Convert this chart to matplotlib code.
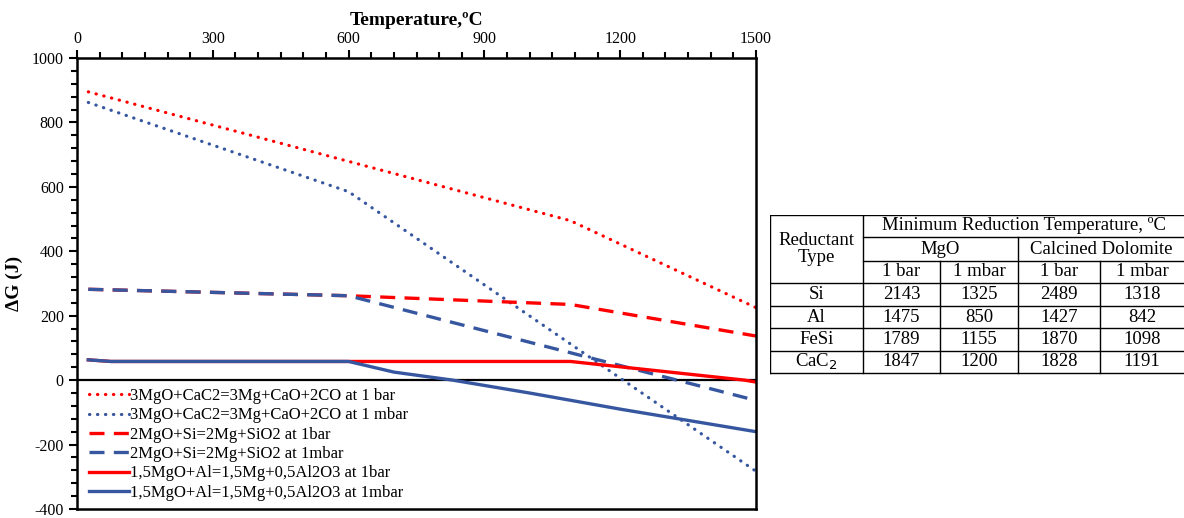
import matplotlib.pyplot as plt
from matplotlib.ticker import MultipleLocator

plt.rcParams['font.family'] = ['Liberation Serif', 'DejaVu Serif']
plt.rcParams['axes.unicode_minus'] = False

# temperature (C) / delta G (J)
t_cac2_1bar = [25, 1090, 1500]
g_cac2_1bar = [895, 495, 225]
t_cac2_1mbar = [25, 600, 1500]
g_cac2_1mbar = [862, 585, -283]
t_si_1bar = [25, 600, 1090, 1500]
g_si_1bar = [282, 262, 235, 137]
t_si_1mbar = [25, 600, 1500]
g_si_1mbar = [282, 262, -63]
t_al_1bar = [25, 75, 1090, 1475, 1500]
g_al_1bar = [63, 58, 58, 0, -6]
t_al_1mbar = [25, 75, 600, 700, 830, 1000, 1200, 1350, 1500]
g_al_1mbar = [63, 58, 58, 25, 0, -40, -90, -125, -160]

labels = [
    "3MgO+CaC2=3Mg+CaO+2CO at 1 bar",
    "3MgO+CaC2=3Mg+CaO+2CO at 1 mbar",
    "2MgO+Si=2Mg+SiO2 at 1bar",
    "2MgO+Si=2Mg+SiO2 at 1mbar",
    "1,5MgO+Al=1,5Mg+0,5Al2O3 at 1bar",
    "1,5MgO+Al=1,5Mg+0,5Al2O3 at 1mbar",
]

# table of minimum reduction temperatures
reductants = ["Si", "Al", "FeSi", "CaC$_2$"]
mgo_1bar = [2143, 1475, 1789, 1847]
mgo_1mbar = [1325, 850, 1155, 1200]
dol_1bar = [2489, 1427, 1870, 1828]
dol_1mbar = [1318, 842, 1098, 1191]

red = "#ff0000"
blue = "#3657a0"

fig = plt.figure(figsize=(11.84, 5.18), dpi=100)
ax = fig.add_axes([77 / 1184, 1 - 509 / 518, 679 / 1184, 451 / 518])

dot = (0, (0.1, 2.4))
dash = (0, (4.5, 2.8))
ax.plot(t_cac2_1bar, g_cac2_1bar, color=red, lw=2.3, linestyle=dot, dash_capstyle="round", label=labels[0])
ax.plot(t_cac2_1mbar, g_cac2_1mbar, color=blue, lw=2.3, linestyle=dot, dash_capstyle="round", label=labels[1])
ax.plot(t_si_1bar, g_si_1bar, color=red, lw=2.4, linestyle=dash, label=labels[2])
ax.plot(t_si_1mbar, g_si_1mbar, color=blue, lw=2.4, linestyle=dash, label=labels[3])
ax.plot(t_al_1bar, g_al_1bar, color=red, lw=2.4, label=labels[4])
ax.plot(t_al_1mbar, g_al_1mbar, color=blue, lw=2.4, label=labels[5])

ax.axhline(0, color="black", lw=1.6, zorder=1)

ax.set_xlim(0, 1500)
ax.set_ylim(-400, 1000)
ax.xaxis.set_major_locator(MultipleLocator(300))
ax.xaxis.set_minor_locator(MultipleLocator(50))
ax.yaxis.set_major_locator(MultipleLocator(200))
ax.yaxis.set_minor_locator(MultipleLocator(40))
ax.xaxis.tick_top()
ax.xaxis.set_label_position("top")
ax.tick_params(axis="both", which="both", direction="out", width=1.5, labelsize=11.5)
ax.tick_params(which="major", length=6)
ax.tick_params(which="minor", length=4)
ax.tick_params(axis="x", pad=2)
for s in ax.spines.values():
    s.set_linewidth(1.8)
ax.set_xlabel("Temperature,ºC", fontsize=14, fontweight="bold", labelpad=4)
ax.set_ylabel("ΔG (J)", fontsize=14, fontweight="bold", labelpad=6)

ax.legend(loc="lower left", bbox_to_anchor=(0.005, 0.0), frameon=False, fontsize=12,
          handlelength=2.4, handletextpad=0.1, labelspacing=0.2, borderaxespad=0.1)

# table drawn in pixel coordinates
tx = fig.add_axes([770 / 1184, 1 - 375 / 518, 414 / 1184, 160 / 518])
tx.set_xlim(0, 414)
tx.set_ylim(160, 0)
tx.axis("off")

cols = [0, 93, 170, 248, 330, 414]
rows = [0, 22, 46, 68, 91, 113, 136, 158]
lw = 1.0
tx.plot([0, 414], [rows[0], rows[0]], color="black", lw=lw)
tx.plot([cols[1], 414], [rows[1], rows[1]], color="black", lw=lw)
tx.plot([cols[1], 414], [rows[2], rows[2]], color="black", lw=lw)
for r in rows[3:]:
    tx.plot([0, 414], [r, r], color="black", lw=lw)
tx.plot([0, 0], [0, rows[-1]], color="black", lw=lw)
tx.plot([cols[1], cols[1]], [0, rows[-1]], color="black", lw=lw)
tx.plot([cols[3], cols[3]], [rows[1], rows[-1]], color="black", lw=lw)
for c in (cols[2], cols[4]):
    tx.plot([c, c], [rows[2], rows[-1]], color="black", lw=lw)

fs = 13.5
tx.text(cols[1] / 2, rows[3] / 2, "Reductant\nType", ha="center", va="center", fontsize=fs, linespacing=1.05)
tx.text((cols[1] + 414) / 2, rows[1] / 2, "Minimum Reduction Temperature, ºC", ha="center", va="center", fontsize=fs)
tx.text((cols[1] + cols[3]) / 2, (rows[1] + rows[2]) / 2, "MgO", ha="center", va="center", fontsize=fs)
tx.text((cols[3] + 414) / 2, (rows[1] + rows[2]) / 2, "Calcined Dolomite", ha="center", va="center", fontsize=fs)
for j, h in enumerate(["1 bar", "1 mbar", "1 bar", "1 mbar"]):
    tx.text((cols[j + 1] + cols[j + 2]) / 2, (rows[2] + rows[3]) / 2, h, ha="center", va="center", fontsize=fs)

for i, name in enumerate(reductants):
    yc = (rows[i + 3] + rows[i + 4]) / 2
    tx.text(cols[1] / 2, yc, name, ha="center", va="center", fontsize=fs)
    for j, v in enumerate([mgo_1bar[i], mgo_1mbar[i], dol_1bar[i], dol_1mbar[i]]):
        tx.text((cols[j + 1] + cols[j + 2]) / 2, yc, str(v), ha="center", va="center", fontsize=fs)

fig.savefig("out.png", dpi=100)
